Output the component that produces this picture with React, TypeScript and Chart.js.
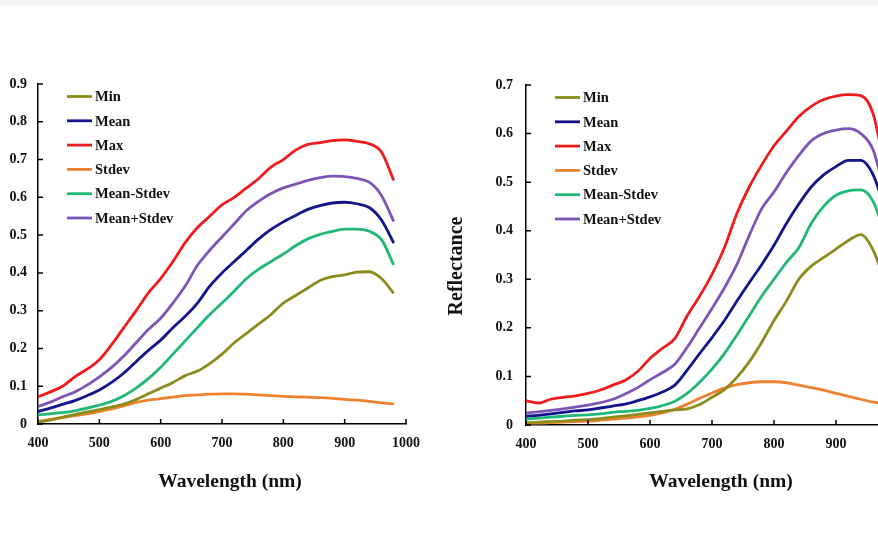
import React, { useEffect, useRef } from 'react';
import { Chart, registerables } from 'chart.js';

Chart.register(...registerables);

// ---------- data ----------
const wavelengths = [400, 420, 440, 460, 480, 500, 520, 540, 560, 580, 600, 620, 640, 660, 680, 700, 720, 740, 760, 780, 800, 820, 840, 860, 880, 900, 920, 940, 960, 980];

const seriesNames = ['Min', 'Mean', 'Max', 'Stdev', 'Mean-Stdev', 'Mean+Stdev'];
const seriesColors = ['#8c8c1c', '#14148c', '#ee1c1c', '#ee8130', '#20b877', '#7d55b8'];

const xTickValues = [400, 500, 600, 700, 800, 900, 1000];

// left panel
const leftMin = [0.005, 0.01, 0.018, 0.025, 0.032, 0.038, 0.045, 0.053, 0.065, 0.08, 0.095, 0.11, 0.128, 0.14, 0.16, 0.185, 0.215, 0.24, 0.265, 0.29, 0.32, 0.34, 0.36, 0.38, 0.39, 0.395, 0.402, 0.403, 0.385, 0.346];
const leftMean = [0.033, 0.042, 0.052, 0.062, 0.075, 0.09, 0.11, 0.135, 0.165, 0.195, 0.222, 0.255, 0.285, 0.32, 0.365, 0.4, 0.43, 0.46, 0.49, 0.515, 0.535, 0.552, 0.568, 0.578, 0.585, 0.587, 0.583, 0.573, 0.54, 0.479];
const leftMax = [0.072, 0.085, 0.1, 0.125, 0.145, 0.17, 0.21, 0.255, 0.3, 0.347, 0.385, 0.43, 0.48, 0.52, 0.55, 0.58, 0.6, 0.625, 0.65, 0.68, 0.7, 0.725, 0.74, 0.745, 0.75, 0.752, 0.748, 0.742, 0.72, 0.645];
const leftStdev = [0.006, 0.012, 0.017, 0.022, 0.027, 0.033, 0.04, 0.048, 0.057, 0.063, 0.067, 0.071, 0.075, 0.077, 0.079, 0.08, 0.08, 0.079, 0.077, 0.075, 0.073, 0.072, 0.071, 0.07, 0.068, 0.065, 0.063, 0.06, 0.056, 0.053];
const leftMeanMinus = [0.024, 0.027, 0.03, 0.035, 0.042, 0.05, 0.06, 0.075, 0.095, 0.12, 0.15, 0.185, 0.22, 0.255, 0.29, 0.32, 0.352, 0.385, 0.41, 0.43, 0.45, 0.472, 0.49, 0.502, 0.51, 0.516, 0.516, 0.51, 0.488, 0.421];
const leftMeanPlus = [0.046, 0.058, 0.072, 0.085, 0.103, 0.125, 0.15, 0.18, 0.215, 0.25, 0.28, 0.32, 0.365, 0.42, 0.46, 0.495, 0.53, 0.565, 0.59, 0.61, 0.625, 0.635, 0.645, 0.652, 0.656, 0.655, 0.65, 0.64, 0.605, 0.536];
const leftYTicks = [0, 0.1, 0.2, 0.3, 0.4, 0.5, 0.6, 0.7, 0.8, 0.9];

// right panel
const rightMin = [0.004, 0.006, 0.007, 0.008, 0.01, 0.011, 0.013, 0.016, 0.019, 0.022, 0.025, 0.028, 0.031, 0.033, 0.042, 0.057, 0.073, 0.098, 0.13, 0.17, 0.215, 0.255, 0.3, 0.327, 0.345, 0.362, 0.38, 0.392, 0.36, 0.29];
const rightMean = [0.018, 0.02, 0.023, 0.026, 0.029, 0.031, 0.035, 0.039, 0.043, 0.05, 0.058, 0.068, 0.082, 0.113, 0.147, 0.18, 0.215, 0.255, 0.293, 0.33, 0.37, 0.415, 0.455, 0.49, 0.515, 0.532, 0.545, 0.545, 0.515, 0.44];
const rightMax = [0.05, 0.045, 0.053, 0.057, 0.06, 0.065, 0.072, 0.082, 0.092, 0.11, 0.137, 0.158, 0.178, 0.225, 0.265, 0.31, 0.365, 0.435, 0.49, 0.535, 0.575, 0.605, 0.635, 0.656, 0.67, 0.677, 0.68, 0.678, 0.64, 0.52];
const rightStdev = [0.004, 0.004, 0.005, 0.006, 0.007, 0.008, 0.01, 0.012, 0.014, 0.017, 0.02, 0.025, 0.032, 0.043, 0.055, 0.066, 0.076, 0.083, 0.087, 0.089, 0.089, 0.087, 0.082, 0.077, 0.072, 0.065, 0.059, 0.053, 0.047, 0.043];
const rightMeanMinus = [0.012, 0.014, 0.016, 0.018, 0.02, 0.021, 0.023, 0.026, 0.028, 0.03, 0.034, 0.04, 0.049, 0.065, 0.088, 0.115, 0.147, 0.185, 0.225, 0.265, 0.3, 0.335, 0.365, 0.415, 0.45, 0.473, 0.482, 0.484, 0.46, 0.39];
const rightMeanPlus = [0.025, 0.027, 0.03, 0.033, 0.037, 0.041, 0.046, 0.053, 0.064, 0.077, 0.093, 0.108, 0.125, 0.16, 0.2, 0.24, 0.282, 0.33, 0.39, 0.445, 0.48, 0.52, 0.555, 0.585, 0.6, 0.607, 0.61, 0.6, 0.566, 0.47];
const rightYTicks = [0, 0.1, 0.2, 0.3, 0.4, 0.5, 0.6, 0.7];

const xTitle = 'Wavelength (nm)';
const yTitle = 'Reflectance';

const FONT = '"Liberation Serif", "Times New Roman", serif';

type PanelProps = {
  series: number[][];
  yTicks: number[];
  canvasLeft: number;
  canvasWidth: number;
  axisLeft: number;
  axisRight: number;
  axisTop: number;
  axisBottom: number;
  yLabelPad: number;
  xTitleShift: number;
  showYTitle: boolean;
  yTitleX: number;
  yTitleY: number;
};

function Panel(p: PanelProps) {
  const ref = useRef<HTMLCanvasElement | null>(null);
  const H = 544;
  useEffect(() => {
    if (!ref.current) return;
    const datasets = seriesNames.map((name, i) => ({
      label: name,
      data: wavelengths.map((w, j) => ({ x: w, y: p.series[i][j] })),
      borderColor: seriesColors[i],
      backgroundColor: seriesColors[i],
      borderWidth: 2.8,
      pointRadius: 0,
      fill: false,
      cubicInterpolationMode: 'monotone' as const,
    }));

    const extras = {
      id: 'extras',
      afterDraw(chart: any) {
        const ctx = chart.ctx;
        const ca = chart.chartArea;
        const xs = chart.scales.x;
        const ys = chart.scales.y;
        ctx.save();
        ctx.strokeStyle = '#000';
        ctx.lineWidth = 1.5;
        ctx.beginPath();
        ys.ticks.forEach((t: any) => {
          const py = ys.getPixelForValue(t.value);
          ctx.moveTo(ca.left, py);
          ctx.lineTo(ca.left + 5, py);
        });
        xs.ticks.forEach((t: any) => {
          const px = xs.getPixelForValue(t.value);
          ctx.moveTo(px, ca.bottom);
          ctx.lineTo(px, ca.bottom - 5);
        });
        ctx.stroke();
        ctx.font = `bold 14.5px ${FONT}`;
        ctx.textBaseline = 'middle';
        ctx.textAlign = 'left';
        chart.data.datasets.forEach((ds: any, i: number) => {
          const y = ca.top + 12.5 + i * 24.3;
          const x0 = ca.left + 29;
          ctx.strokeStyle = ds.borderColor;
          ctx.lineWidth = 2.8;
          ctx.beginPath();
          ctx.moveTo(x0, y);
          ctx.lineTo(x0 + 25, y);
          ctx.stroke();
          ctx.fillStyle = '#111';
          ctx.fillText(ds.label, x0 + 28, y + 1);
        });
        ctx.font = `bold 19.5px ${FONT}`;
        ctx.textAlign = 'center';
        ctx.fillStyle = '#111';
        ctx.fillText(xTitle, (ca.left + ca.right) / 2 + p.xTitleShift, 482);
        if (p.showYTitle) {
          ctx.translate(p.yTitleX, p.yTitleY);
          ctx.rotate(-Math.PI / 2);
          ctx.font = `bold 20px ${FONT}`;
          ctx.fillText(yTitle, 0, 0);
        }
        ctx.restore();
      },
    };

    const chart = new Chart(ref.current, {
      type: 'line',
      data: { datasets },
      options: {
        animation: false,
        responsive: false,
        maintainAspectRatio: false,
        layout: { padding: { left: 0, top: p.axisTop, right: p.canvasWidth - p.axisRight, bottom: 0 } },
        plugins: { legend: { display: false }, tooltip: { enabled: false } },
        scales: {
          x: {
            type: 'linear',
            min: 400,
            max: 1000,
            afterBuildTicks: (s: any) => {
              s.ticks = xTickValues.map((v) => ({ value: v }));
            },
            afterFit: (s: any) => {
              s.height = H - p.axisBottom;
            },
            grid: { display: true, drawOnChartArea: false, drawTicks: false },
            border: { display: true, color: '#000', width: 1.5 },
            ticks: {
              padding: 11,
              color: '#111',
              font: { family: FONT, size: 14, weight: 'bold' },
              maxRotation: 0,
              callback: (v: any) => String(v),
            },
          },
          y: {
            type: 'linear',
            min: 0,
            max: p.yTicks[p.yTicks.length - 1],
            afterBuildTicks: (s: any) => {
              s.ticks = p.yTicks.map((v) => ({ value: v }));
            },
            afterFit: (s: any) => {
              s.width = p.axisLeft;
            },
            grid: { display: true, drawOnChartArea: false, drawTicks: false },
            border: { display: true, color: '#000', width: 1.5 },
            ticks: {
              padding: p.yLabelPad,
              color: '#111',
              font: { family: FONT, size: 14, weight: 'bold' },
              callback: (v: any) => (Number(v) === 0 ? '0' : Number(v).toFixed(1)),
            },
          },
        },
      },
      plugins: [extras],
    } as any);
    return () => chart.destroy();
  }, []);

  return (
    <canvas
      ref={ref}
      width={p.canvasWidth}
      height={H}
      style={{ position: 'absolute', left: p.canvasLeft, top: 0, width: p.canvasWidth, height: H }}
    />
  );
}

export default function App() {
  return (
    <div
      style={{
        position: 'absolute',
        left: 0,
        top: 0,
        width: 878,
        height: 544,
        overflow: 'hidden',
        background: '#fff',
      }}
    >
      <div style={{ position: 'absolute', left: 0, top: 0, width: 878, height: 5, background: '#f4f4f4' }} />
      <Panel
        series={[leftMin, leftMean, leftMax, leftStdev, leftMeanMinus, leftMeanPlus]}
        yTicks={leftYTicks}
        canvasLeft={0}
        canvasWidth={440}
        axisLeft={38}
        axisRight={406}
        axisTop={84}
        axisBottom={424}
        yLabelPad={11}
        xTitleShift={8}
        showYTitle={false}
        yTitleX={0}
        yTitleY={0}
      />
      <Panel
        series={[rightMin, rightMean, rightMax, rightStdev, rightMeanMinus, rightMeanPlus]}
        yTicks={rightYTicks}
        canvasLeft={440}
        canvasWidth={500}
        axisLeft={86}
        axisRight={458}
        axisTop={85}
        axisBottom={425}
        yLabelPad={13}
        xTitleShift={9}
        showYTitle={true}
        yTitleX={17}
        yTitleY={266}
      />
    </div>
  );
}
